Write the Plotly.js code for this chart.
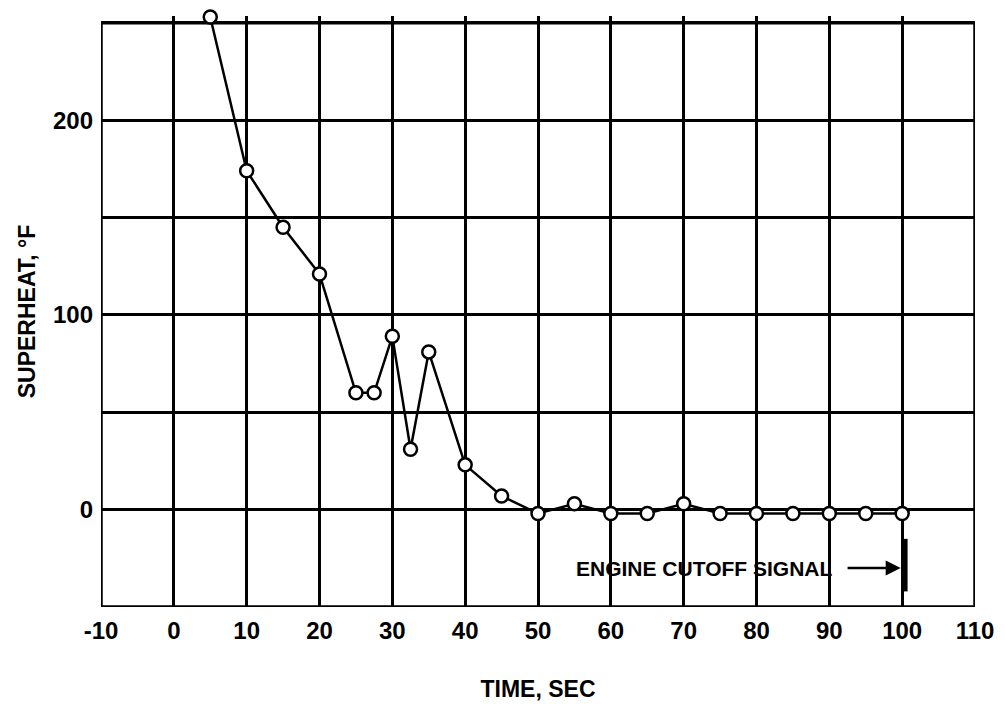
<!DOCTYPE html>
<html>
<head>
<meta charset="utf-8">
<script src="https://cdn.plot.ly/plotly-3.0.1.min.js"></script>
<style>
html,body{margin:0;padding:0;background:#fff;}
#chart{width:1005px;height:708px;}
</style>
</head>
<body>
<div id="chart"></div>
<script>
const timeSec = [5, 10, 15, 20, 25, 27.5, 30, 32.5, 35, 40, 45, 50, 55, 60, 65, 70, 75, 80, 85, 90, 95, 100];
const superheat = [253, 174, 145, 121, 60, 60, 89, 31, 81, 23, 7, -2, 3, -2, -2, 3, -2, -2, -2, -2, -2, -2];
const xTicks = [-10, 0, 10, 20, 30, 40, 50, 60, 70, 80, 90, 100, 110];
const yTicks = [-50, 0, 50, 100, 150, 200, 250];
const yTickText = ['', '0', '', '100', '', '200', ''];
const cutoffTime = 100;

const FONT = '"Liberation Sans", Arial, sans-serif';

const trace = {
  x: timeSec,
  y: superheat,
  mode: 'lines+markers',
  type: 'scatter',
  line: {color: '#000', width: 2.5},
  marker: {symbol: 'circle', size: 13, color: '#fff', line: {color: '#000', width: 2.5}},
  cliponaxis: false,
  hoverinfo: 'x+y'
};

const layout = {
  width: 1005,
  height: 708,
  paper_bgcolor: '#fff',
  plot_bgcolor: '#fff',
  showlegend: false,
  margin: {l: 101, r: 30, t: 16, b: 101},
  font: {family: FONT, color: '#000', size: 24, weight: 'bold'},
  xaxis: {
    range: [-10, 110],
    tickvals: xTicks,
    ticktext: xTicks.map(String),
    showgrid: true,
    gridcolor: '#000',
    gridwidth: 3,
    showline: false,
    zeroline: false,
    ticks: '',
    ticklabelstandoff: 7,
    tickfont: {family: FONT, size: 24, color: '#000', weight: 'bold'},
    title: {text: 'TIME, SEC', font: {family: FONT, size: 23, color: '#000', weight: 'bold'}, standoff: 37}
  },
  yaxis: {
    range: [-50, 253.5],
    tickvals: yTicks,
    ticktext: yTickText,
    showgrid: true,
    gridcolor: '#000',
    gridwidth: 3,
    showline: false,
    zeroline: false,
    ticks: '',
    ticklabelstandoff: 7,
    tickfont: {family: FONT, size: 24, color: '#000', weight: 'bold'},
    title: {text: 'SUPERHEAT, °F', font: {family: FONT, size: 23, color: '#000', weight: 'bold'}, standoff: 10}
  },
  shapes: [
    {type: 'rect', xref: 'x', yref: 'y', x0: -10, x1: 110, y0: -50, y1: 250, layer: 'below',
     line: {color: '#000', width: 3.5}},
    {type: 'line', xref: 'x', yref: 'y', x0: cutoffTime + 0.4, x1: cutoffTime + 0.4, y0: -15, y1: -42,
     line: {color: '#000', width: 5}}
  ],
  annotations: [
    {x: 55, y: -30, xref: 'x', yref: 'y', text: 'ENGINE CUTOFF SIGNAL', showarrow: false,
     xanchor: 'left', yanchor: 'middle', font: {family: FONT, size: 21, color: '#000', weight: 'bold'}},
    {x: cutoffTime - 0.2, y: -30, ax: 92.3, ay: -30, axref: 'x', ayref: 'y', xref: 'x', yref: 'y',
     text: '', showarrow: true, arrowhead: 2, arrowsize: 1.2, arrowwidth: 2.5, arrowcolor: '#000'}
  ]
};

Plotly.newPlot('chart', [trace], layout, {displayModeBar: false, staticPlot: true});
</script>
</body>
</html>
